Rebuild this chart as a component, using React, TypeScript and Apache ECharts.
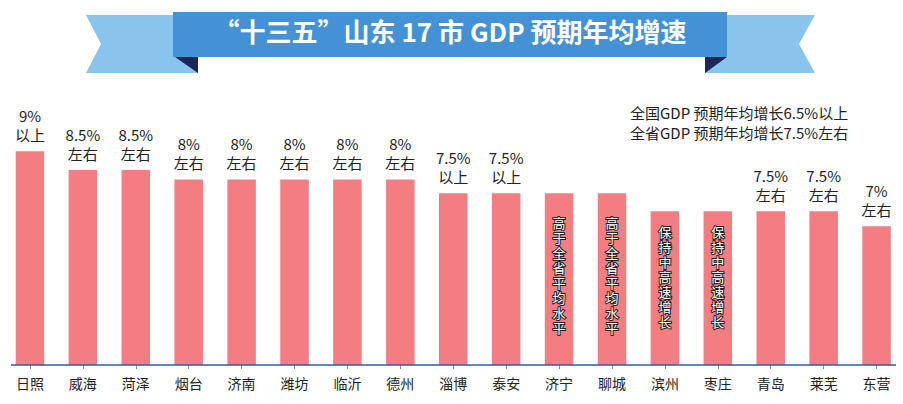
import React, { useEffect, useRef } from "react";
import * as echarts from "echarts";

const cities = ["日照", "威海", "菏泽", "烟台", "济南", "潍坊", "临沂", "德州", "淄博", "泰安", "济宁", "聊城", "滨州", "枣庄", "青岛", "莱芜", "东营"];
// bar heights as drawn in the picture (relative scale)
const barHeights = [9.0, 8.5, 8.5, 8.25, 8.25, 8.25, 8.25, 8.25, 7.88, 7.88, 7.88, 7.88, 7.4, 7.4, 7.4, 7.4, 7.0];
const rateLabels = ["9%", "8.5%", "8.5%", "8%", "8%", "8%", "8%", "8%", "7.5%", "7.5%", "", "", "", "", "7.5%", "7.5%", "7%"];
const qualifiers = ["以上", "左右", "左右", "左右", "左右", "左右", "左右", "左右", "以上", "以上", "", "", "", "", "左右", "左右", "左右"];
const verticalNotes = ["", "", "", "", "", "", "", "", "", "", "高于全省平均水平", "高于全省平均水平", "保持中高速增长", "保持中高速增长", "", "", ""];
const titleText = "“十三五”山东 17 市 GDP 预期年均增速";
const noteLines = ["全国GDP 预期年均增长6.5%以上", "全省GDP 预期年均增长7.5%左右"];

const FONT = "'Noto Sans CJK SC', 'Noto Sans', sans-serif";
const TIGHT_FONT = "'Liberation Sans', 'Noto Sans CJK SC', sans-serif";

export default function App() {
  const ref = useRef<HTMLDivElement>(null);
  useEffect(() => {
    document.body.style.margin = "0";
    const chart = echarts.init(ref.current!, undefined, { renderer: "svg" });
    const data = barHeights.map((v, i) => {
      if (verticalNotes[i]) {
        return {
          value: v,
          label: {
            show: true,
            position: "insideTop",
            distance: i < 12 ? 23 : 14,
            formatter: verticalNotes[i].split("").join("\n"),
            color: "#ffffff",
            fontSize: 13,
            lineHeight: 15,
            textBorderColor: "#222222",
            textBorderWidth: 2,
            fontFamily: TIGHT_FONT,
          },
        };
      }
      return {
        value: v,
        label: {
          show: true,
          position: "top",
          distance: 7,
          formatter: rateLabels[i] + "\n" + qualifiers[i],
          color: "#222222",
          fontSize: 15,
          lineHeight: 19,
          align: "center",
          fontFamily: FONT,
        },
      };
    });
    chart.setOption({
      animation: false,
      textStyle: { fontFamily: FONT },
      grid: { left: 3.5, width: 900, top: 102.5, bottom: 39, containLabel: false },
      xAxis: {
        type: "category",
        data: cities,
        boundaryGap: true,
        axisLine: { show: false },
        axisTick: { show: true, alignWithLabel: true, length: 4, lineStyle: { color: "#7f8ea6", width: 1 } },
        axisLabel: { color: "#222222", fontSize: 14, margin: 11, fontFamily: FONT, interval: 0 },
        splitLine: { show: false },
      },
      yAxis: {
        type: "value",
        min: 3.3,
        max: 10.3,
        show: false,
        splitLine: { show: false },
      },
      series: [
        {
          type: "bar",
          data,
          barWidth: 28.5,
          clip: true,
          itemStyle: { color: "#F37E82" },
        },
      ],
      graphic: [
        { type: "polygon", shape: { points: [[86, 15], [198, 15], [198, 73], [86, 73], [101, 44]] }, style: { fill: "#88C4EB" }, z: 1 },
        { type: "polygon", shape: { points: [[705, 15], [815, 15], [799, 44], [815, 73], [705, 73]] }, style: { fill: "#88C4EB" }, z: 1 },
        { type: "polygon", shape: { points: [[175, 57], [198, 57], [198, 73]] }, style: { fill: "#1D2656" }, z: 2 },
        { type: "polygon", shape: { points: [[727, 57], [705, 57], [705, 73]] }, style: { fill: "#1D2656" }, z: 2 },
        { type: "rect", shape: { x: 173, y: 12, width: 554, height: 45 }, style: { fill: "#4492D5" }, z: 3 },
        {
          type: "text",
          x: 450,
          y: 30,
          z: 4,
          style: {
            text: titleText,
            fill: "#ffffff",
            fontSize: 26,
            fontWeight: "bold",
            fontFamily: FONT,
            textAlign: "center",
            textVerticalAlign: "middle",
          },
        },
        {
          type: "text",
          x: 630,
          y: 102,
          z: 4,
          style: {
            text: noteLines.join("\n"),
            fill: "#222222",
            fontSize: 15,
            lineHeight: 20,
            fontFamily: FONT,
            textAlign: "left",
            textVerticalAlign: "top",
          },
        },
        { type: "line", shape: { x1: 11, y1: 365, x2: 896, y2: 365 }, style: { stroke: "#2F5BA8", lineWidth: 1.5 }, z: 5 },
      ],
    });
    return () => chart.dispose();
  }, []);
  return <div ref={ref} style={{ width: 903, height: 404 }} />;
}
